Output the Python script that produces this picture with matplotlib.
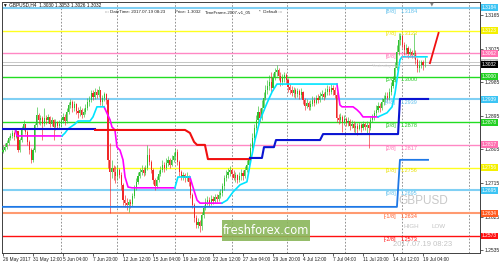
import numpy as np
import matplotlib.pyplot as plt
from matplotlib.patches import Rectangle
from matplotlib.transforms import blended_transform_factory

# ---- H4 candles, GBPUSD 26 May - 19 Jul 2017 (bar index = position on chart)
closes = [
    1.2803, 1.2811, 1.2822, 1.2836, 1.2841, 1.2849, 1.2838, 1.2854, 1.2803, 1.2830,
    1.2862, 1.2873, 1.2852, 1.2825, 1.2803, 1.2777, 1.2803, 1.2870, 1.2897, 1.2884,
    1.2889, 1.2873, 1.2889, 1.2884, 1.2892, 1.2873, 1.2884, 1.2865, 1.2878, 1.2868,
    1.2873, 1.2884, 1.2892, 1.2881, 1.2905, 1.2924, 1.2932, 1.2916, 1.2927, 1.2908,
    1.2903, 1.2911, 1.2897, 1.2905, 1.2916, 1.2932, 1.2937, 1.2956, 1.2946, 1.2959,
    1.2951, 1.2964, 1.2932, 1.2943, 1.2954, 1.2937, 1.2777, 1.2744, 1.2755, 1.2744,
    1.2734, 1.2750, 1.2736, 1.2710, 1.2669, 1.2661, 1.2656, 1.2664, 1.2659, 1.2680,
    1.2702, 1.2718, 1.2734, 1.2744, 1.2750, 1.2742, 1.2755, 1.2790, 1.2771, 1.2750,
    1.2723, 1.2707, 1.2723, 1.2739, 1.2750, 1.2763, 1.2755, 1.2769, 1.2777, 1.2763,
    1.2777, 1.2787, 1.2798, 1.2771, 1.2744, 1.2731, 1.2736, 1.2728, 1.2734, 1.2718,
    1.2683, 1.2656, 1.2621, 1.2602, 1.2611, 1.2600, 1.2629, 1.2648, 1.2664, 1.2669,
    1.2661, 1.2672, 1.2667, 1.2677, 1.2672, 1.2683, 1.2688, 1.2707, 1.2728, 1.2736,
    1.2744, 1.2750, 1.2739, 1.2728, 1.2736, 1.2723, 1.2734, 1.2742, 1.2734, 1.2750,
    1.2763, 1.2777, 1.2809, 1.2836, 1.2862, 1.2884, 1.2905, 1.2889, 1.2916, 1.2943,
    1.2964, 1.2975, 1.2986, 1.2970, 1.2996, 1.3013, 1.3018, 1.3002, 1.2986, 1.2996,
    1.3004, 1.2991, 1.2972, 1.2964, 1.2956, 1.2964, 1.2954, 1.2962, 1.2951, 1.2959,
    1.2937, 1.2921, 1.2929, 1.2919, 1.2927, 1.2937, 1.2929, 1.2943, 1.2937, 1.2948,
    1.2954, 1.2946, 1.2959, 1.2967, 1.2959, 1.2970, 1.2964, 1.2951, 1.2889, 1.2884,
    1.2892, 1.2878, 1.2886, 1.2876, 1.2881, 1.2868, 1.2873, 1.2862, 1.2868, 1.2860,
    1.2870, 1.2862, 1.2873, 1.2865, 1.2870, 1.2862, 1.2884, 1.2892, 1.2903, 1.2911,
    1.2921, 1.2916, 1.2932, 1.2940, 1.2948, 1.2943, 1.2959, 1.2975, 1.2991, 1.3023,
    1.3066, 1.3098, 1.3109, 1.3085, 1.3071, 1.3077, 1.3061, 1.3066, 1.3058, 1.3063,
    1.3045, 1.3023, 1.3031, 1.3039, 1.3030, 1.3032,
]
highs = [
    1.2817, 1.2822, 1.2830, 1.2841, 1.2849, 1.2857, 1.2854, 1.2862, 1.2849, 1.2836,
    1.2868, 1.2884, 1.2873, 1.2857, 1.2830, 1.2809, 1.2809, 1.2876, 1.2919, 1.2903,
    1.2897, 1.2895, 1.2916, 1.2897, 1.2900, 1.2895, 1.2892, 1.2886, 1.2886, 1.2881,
    1.2884, 1.2892, 1.2903, 1.2900, 1.2916, 1.2932, 1.2940, 1.2937, 1.2935, 1.2929,
    1.2919, 1.2921, 1.2916, 1.2916, 1.2927, 1.2943, 1.2948, 1.2964, 1.2964, 1.2970,
    1.2967, 1.2975, 1.2964, 1.2951, 1.2959, 1.2956, 1.2943, 1.2822, 1.2777, 1.2763,
    1.2761, 1.2763, 1.2755, 1.2744, 1.2715, 1.2683, 1.2675, 1.2672, 1.2672, 1.2688,
    1.2710, 1.2728, 1.2744, 1.2755, 1.2763, 1.2758, 1.2763, 1.2817, 1.2809, 1.2777,
    1.2755, 1.2728, 1.2734, 1.2750, 1.2761, 1.2777, 1.2771, 1.2782, 1.2787, 1.2782,
    1.2790, 1.2798, 1.2809, 1.2806, 1.2777, 1.2750, 1.2744, 1.2742, 1.2744, 1.2736,
    1.2723, 1.2688, 1.2661, 1.2629, 1.2621, 1.2616, 1.2637, 1.2656, 1.2675, 1.2680,
    1.2677, 1.2683, 1.2680, 1.2686, 1.2686, 1.2694, 1.2699, 1.2715, 1.2736, 1.2750,
    1.2755, 1.2761, 1.2755, 1.2750, 1.2744, 1.2739, 1.2744, 1.2752, 1.2750, 1.2761,
    1.2777, 1.2787, 1.2822, 1.2849, 1.2873, 1.2897, 1.2921, 1.2916, 1.2937, 1.2959,
    1.2978, 1.2991, 1.3004, 1.3013, 1.3010, 1.3023, 1.3031, 1.3023, 1.3013, 1.3007,
    1.3013, 1.3010, 1.2996, 1.2980, 1.2975, 1.2972, 1.2970, 1.2970, 1.2967, 1.2970,
    1.2962, 1.2943, 1.2940, 1.2935, 1.2937, 1.2948, 1.2946, 1.2951, 1.2954, 1.2959,
    1.2964, 1.2959, 1.2970, 1.2978, 1.2975, 1.2980, 1.2978, 1.2972, 1.2959, 1.2900,
    1.2903, 1.2897, 1.2897, 1.2892, 1.2892, 1.2886, 1.2884, 1.2881, 1.2878, 1.2876,
    1.2878, 1.2876, 1.2881, 1.2878, 1.2881, 1.2878, 1.2892, 1.2900, 1.2911, 1.2924,
    1.2932, 1.2929, 1.2943, 1.2951, 1.2959, 1.2959, 1.2970, 1.2986, 1.3002, 1.3039,
    1.3085, 1.3117, 1.3117, 1.3112, 1.3093, 1.3088, 1.3082, 1.3077, 1.3071, 1.3117,
    1.3071, 1.3050, 1.3045, 1.3045, 1.3045, 1.3053,
]
lows = [
    1.2795, 1.2801, 1.2806, 1.2817, 1.2830, 1.2836, 1.2830, 1.2836, 1.2798, 1.2798,
    1.2825, 1.2857, 1.2846, 1.2817, 1.2793, 1.2769, 1.2771, 1.2798, 1.2865, 1.2873,
    1.2870, 1.2830, 1.2868, 1.2873, 1.2876, 1.2865, 1.2868, 1.2830, 1.2857, 1.2860,
    1.2862, 1.2865, 1.2876, 1.2870, 1.2876, 1.2900, 1.2916, 1.2905, 1.2908, 1.2900,
    1.2889, 1.2895, 1.2889, 1.2892, 1.2900, 1.2911, 1.2921, 1.2932, 1.2937, 1.2940,
    1.2943, 1.2946, 1.2924, 1.2921, 1.2935, 1.2927, 1.2755, 1.2635, 1.2728, 1.2723,
    1.2715, 1.2723, 1.2728, 1.2696, 1.2656, 1.2651, 1.2643, 1.2637, 1.2648, 1.2653,
    1.2675, 1.2696, 1.2712, 1.2728, 1.2736, 1.2734, 1.2736, 1.2750, 1.2763, 1.2742,
    1.2712, 1.2696, 1.2702, 1.2718, 1.2734, 1.2744, 1.2744, 1.2750, 1.2761, 1.2755,
    1.2761, 1.2771, 1.2777, 1.2763, 1.2734, 1.2723, 1.2723, 1.2718, 1.2720, 1.2707,
    1.2675, 1.2648, 1.2611, 1.2594, 1.2594, 1.2584, 1.2589, 1.2621, 1.2643, 1.2656,
    1.2653, 1.2656, 1.2659, 1.2661, 1.2664, 1.2667, 1.2675, 1.2680, 1.2696, 1.2720,
    1.2728, 1.2734, 1.2728, 1.2723, 1.2718, 1.2715, 1.2718, 1.2723, 1.2723, 1.2728,
    1.2744, 1.2755, 1.2771, 1.2803, 1.2830, 1.2857, 1.2873, 1.2878, 1.2884, 1.2911,
    1.2937, 1.2954, 1.2964, 1.2959, 1.2964, 1.2991, 1.3002, 1.2991, 1.2975, 1.2978,
    1.2986, 1.2980, 1.2959, 1.2954, 1.2948, 1.2946, 1.2943, 1.2946, 1.2940, 1.2943,
    1.2927, 1.2911, 1.2916, 1.2911, 1.2911, 1.2921, 1.2921, 1.2927, 1.2929, 1.2932,
    1.2940, 1.2937, 1.2943, 1.2951, 1.2951, 1.2954, 1.2951, 1.2943, 1.2878, 1.2873,
    1.2876, 1.2852, 1.2870, 1.2868, 1.2868, 1.2857, 1.2862, 1.2852, 1.2849, 1.2844,
    1.2857, 1.2852, 1.2857, 1.2857, 1.2849, 1.2809, 1.2857, 1.2878, 1.2884, 1.2895,
    1.2905, 1.2905, 1.2911, 1.2924, 1.2932, 1.2935, 1.2937, 1.2951, 1.2970, 1.2986,
    1.3018, 1.3058, 1.3085, 1.3077, 1.3058, 1.3061, 1.3050, 1.3053, 1.3050, 1.3050,
    1.3034, 1.3013, 1.3013, 1.3023, 1.3018, 1.3026,
]
first_open = 1.2798

# time axis labels, one every 16 bars
time_labels = ["26 May 2017", "31 May 12:00", "5 Jun 04:00", "7 Jun 20:00", "12 Jun 12:00",
               "15 Jun 04:00", "19 Jun 20:00", "22 Jun 12:00", "27 Jun 04:00", "29 Jun 20:00",
               "4 Jul 12:00", "7 Jul 04:00", "11 Jul 20:00", "14 Jul 12:00", "19 Jul 04:00"]
week_grid = [31, 61, 91.5, 122, 151.5, 182.5, 213, 248.5]

# Murrey math levels
mm_names = ["[8/8]", "[7/8]", "[6/8]", "[5/8]", "[4/8]", "[3/8]", "[2/8]", "[1/8]", "[0/8]", "[-1/8]", "[-2/8]"]
mm_values = [1.3184, 1.3123, 1.3062, 1.3000, 1.2939, 1.2878, 1.2817, 1.2756, 1.2695, 1.2634, 1.2573]
mm_colors = ["#80d0f4", "#ffff20", "#ff88c4", "#22dd22", "#80d0f4", "#22dd22", "#ff88c4",
             "#ffff20", "#80d0f4", "#ff9a70", "#ff1010"]
mm_text_colors = ["#60c0ec", "#e8e000", "#ff78b8", "#22c822", "#60c0ec", "#22c822", "#ff78b8",
                  "#e8e000", "#60c0ec", "#ff5a28", "#ff1010"]
mm_box_colors = ["#3cc4f4", "#f4f000", "#ff70b0", "#22d022", "#3cc4f4", "#22d022", "#ff70b0",
                 "#f4f000", "#3cc4f4", "#ff5a1e", "#ff1010"]
mm_widths = [1.5, 1.0, 1.0, 1.0, 1.5, 1.0, 1.0, 1.0, 1.5, 1.5, 1.0]

price_ticks = [1.3165, 1.3075, 1.2985, 1.2895, 1.2805, 1.2715, 1.2625, 1.2535]
yclose, bid = 1.3039, 1.3032

# trailing stop lines (bar, price)
slow_blue1 = ([0, 49.1], [1.2860, 1.2860])
slow_red = ([49.1, 97.1, 99.7, 101.9, 103.5, 107.7, 109.3, 131.7],
            [1.2857, 1.2857, 1.2849, 1.2825, 1.2817, 1.2817, 1.2779, 1.2779])
slow_blue2 = ([131.7, 138.1, 139.2, 144.5, 145.6, 169.1, 170.7, 210.7, 211.7, 226.7],
              [1.2782, 1.2782, 1.2811, 1.2811, 1.2830, 1.2830, 1.2846, 1.2846, 1.2940, 1.2940])
fast_magenta = [
    ([0, 6.4, 7.5, 31.5], [1.2860, 1.2860, 1.2841, 1.2841]),
    ([53.9, 57.1, 58.1, 59.7, 60.8, 62.4, 64, 65.1, 66.7, 68.8, 91.7],
     [1.2919, 1.2884, 1.2865, 1.2857, 1.2811, 1.2803, 1.2777, 1.2731, 1.2704, 1.2702, 1.2702]),
    ([99.7, 101.3, 103.5, 105.1, 116.8], [1.2731, 1.2704, 1.2669, 1.2661, 1.2661]),
    ([178.1, 179.7, 180.8, 186.7, 188.8, 190.4, 192, 200],
     [1.2980, 1.2924, 1.2919, 1.2919, 1.2911, 1.2903, 1.2892, 1.2892]),
]
fast_cyan = [
    ([31.5, 33.1, 34.7, 38.4, 40, 46.4, 48, 50.1, 53.9],
     [1.2841, 1.2849, 1.2860, 1.2873, 1.2881, 1.2881, 1.2892, 1.2919, 1.2919]),
    ([91.7, 93.3, 99.7], [1.2702, 1.2731, 1.2731]),
    ([116.8, 119.5, 122.7, 126.4, 130.1, 131.7, 134.4, 137.1, 140.8, 143.5, 146.1, 178.1],
     [1.2661, 1.2669, 1.2691, 1.2710, 1.2718, 1.2763, 1.2830, 1.2884, 1.2929, 1.2959, 1.2980, 1.2980]),
    ([200, 204.8, 207.5, 209.1, 210.1, 211.7, 212.8, 226.1],
     [1.2892, 1.2903, 1.2919, 1.2956, 1.2991, 1.3045, 1.3053, 1.3053]),
]
support_line = ([-0.5, 210.1, 211.7, 226.7], [1.2651, 1.2651, 1.2777, 1.2777])
forecast = ([227.7, 232.3], [1.3036, 1.3117])

SANS = 'Liberation Sans'

W, H = 500, 264
fig = plt.figure(figsize=(5, 2.64), dpi=100, facecolor='w')
ax = fig.add_axes([2 / W, 11 / H, 478 / W, 251 / H])
ax.set_xlim(-0.53, 254.4)
ax.set_ylim(1.25274, 1.31998)

# grid
for g in week_grid:
    ax.axvline(g, color='#808080', lw=0.6, ls=(0, (2, 2)), zorder=1)

# levels
for v, c, w in zip(mm_values, mm_colors, mm_widths):
    ax.axhline(v, color=c, lw=w, zorder=2)
ax.axhline(yclose, color='#c8c8c8', lw=0.7, zorder=2)
ax.axhline(bid, color='#b0b0b0', lw=0.7, zorder=2)

# candles
n = len(closes)
x = np.arange(n)
c = np.array(closes)
o = np.array([first_open] + closes[:-1])
hi = np.maximum(np.array(highs), np.maximum(o, c))
lo = np.minimum(np.array(lows), np.minimum(o, c))
up = c >= o
col = np.where(up, '#30c030', '#f02828')
ax.vlines(x, lo, hi, colors=col, lw=0.45, zorder=3)
body = np.where(np.abs(c - o) < 0.00015, 0.00015, c - o)
ax.bar(x, body, bottom=o, width=0.65, color=col, lw=0, zorder=4)

# trailing lines
ax.plot(*support_line, color='#1e78e6', lw=1.3, zorder=5)
for seg in fast_magenta:
    ax.plot(*seg, color='#ff00ff', lw=1.2, zorder=5)
for seg in fast_cyan:
    ax.plot(*seg, color='#00e4ff', lw=1.2, zorder=5)
ax.plot(*slow_blue1, color='#0a14d2', lw=1.5, zorder=6)
ax.plot(*slow_red, color='#f01010', lw=1.5, zorder=6)
ax.plot(*slow_blue2, color='#0a14d2', lw=1.5, zorder=6)
ax.plot(*forecast, color='#f01010', lw=1.3, zorder=6)

# level captions
for name, v, tc in zip(mm_names, mm_values, mm_text_colors):
    ax.text(209.6, v - 0.0002, name, color=tc, fontsize=4, ha='right', va='top',
            family=SANS, zorder=7)
    ax.text(212.3, v - 0.0002, f"{v:.4f}", color=tc, fontsize=4, ha='left', va='top',
            family=SANS, zorder=7)

# axes styling
ax.yaxis.tick_right()
ax.set_yticks(price_ticks)
ax.set_yticklabels([f"{p:.4f}" for p in price_ticks])
ax.tick_params(axis='y', length=2, width=0.5, labelsize=3.6, pad=1, colors='#202020')
ax.set_xticks(np.arange(0, 16 * len(time_labels), 16))
ax.set_xticklabels(time_labels, ha='left')
ax.tick_params(axis='x', length=2, width=0.5, labelsize=3.4, pad=1, colors='#202020')
for lab in ax.get_xticklabels() + ax.get_yticklabels():
    lab.set_family(SANS)
for s in ax.spines.values():
    s.set_color('#404040')
    s.set_linewidth(0.7)

# price boxes on the right scale
tr = blended_transform_factory(ax.transAxes, ax.transData)
boxes = list(zip(mm_values, mm_box_colors)) + [(yclose, '#b8b8b8'), (bid, '#000000')]
for v, bc in boxes:
    ax.text(1.004, v, f"{v:.4f}", transform=tr, fontsize=3.5, color='white', ha='left',
            va='center', family=SANS, clip_on=False, zorder=8,
            bbox=dict(boxstyle='square,pad=0.2', fc=bc, ec='none'))

# header texts
fig.text(3 / W, 1 - 5 / H, "\u25bc GBPUSD,H4  1.3030 1.3053 1.3026 1.3032", fontsize=3.4,
         va='center', family=[SANS, 'DejaVu Sans'], color='#101010')
fig.text(105 / W, 1 - 12 / H, "::: DateTime: 2017.07.19 08:23", fontsize=3.2, va='center',
         family=SANS, color='#202020')
fig.text(175 / W, 1 - 12 / H, "Price: 1.3032", fontsize=3.2, va='center',
         family=SANS, color='#202020')
fig.text(205 / W, 1 - 12 / H, "TimeFrame-2007-v1_05", fontsize=3.2, va='center',
         family=SANS, color='#202020')
fig.text(259 / W, 1 - 12 / H, "*  Default :::", fontsize=3.2, va='center',
         family=SANS, color='#202020')
fig.text(432 / W, 1 - 4 / H, "\u25bc", fontsize=3.5, ha='center', va='center', color='#808080')
fig.text(372 / W, 1 - 65.5 / H, "Yesterday close", fontsize=3.2, va='center',
         family=SANS, color='#d4d4d4')

# watermark texts
fig.text(398 / W, 1 - 201 / H, "GBPUSD", fontsize=8.5, va='center', family=SANS,
         color='#c8c8c8')
fig.text(404 / W, 1 - 227 / H, "HIGH", fontsize=4.5, va='center', family=SANS,
         color='#c4c4c4')
fig.text(432 / W, 1 - 227 / H, "LOW", fontsize=4.5, va='center', family=SANS,
         color='#c4c4c4')
fig.text(393 / W, 1 - 245 / H, "2017.07.19 08:23", fontsize=5.5, va='center',
         family=SANS, color='#c4c4c4')
fig.add_artist(Rectangle((222 / W, 1 - 241 / H), 88 / W, 21 / H, transform=fig.transFigure,
                         fc='#8ab65a', ec='none', alpha=0.9, zorder=10))
fig.text(266 / W, 1 - 230.5 / H, "freshforex.com", fontsize=8.3, ha='center', va='center',
         color='white', zorder=11)

fig.savefig('out.png', dpi=100, facecolor='w')
